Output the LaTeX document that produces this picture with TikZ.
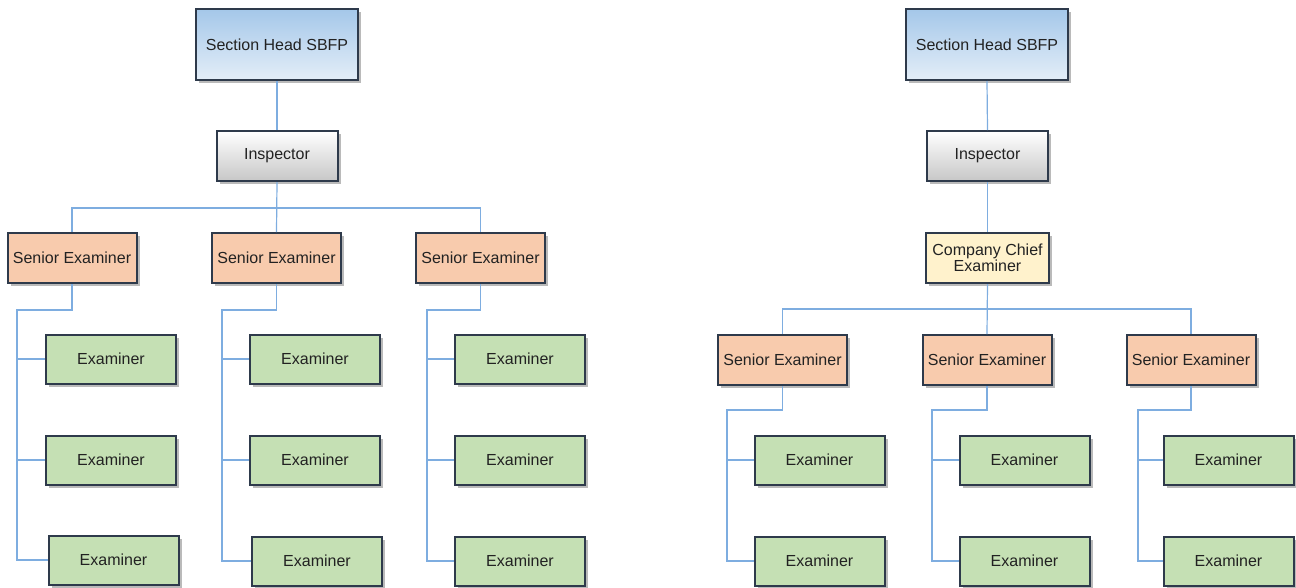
\documentclass[tikz,border=0pt]{standalone}
\usepackage{fontspec}
\setmainfont{Liberation Sans}
\usetikzlibrary{shadows}
\definecolor{bordc}{HTML}{2E3A4B}
\definecolor{connc}{HTML}{7EADE0}
\definecolor{seniorc}{HTML}{F8CBAD}
\definecolor{examc}{HTML}{C5E0B4}
\definecolor{chiefc}{HTML}{FFF2CC}
\definecolor{headtop}{HTML}{A4C7E9}
\definecolor{headbot}{HTML}{E4EEF8}
\definecolor{txtc}{HTML}{222222}
\tikzset{
  box/.style={draw=bordc, line width=2pt, inner sep=2pt, align=center, text=txtc,
    font=\fontsize{16}{17.5}\selectfont,
    drop shadow={shadow xshift=3pt, shadow yshift=-3pt, fill=black!45, opacity=0.6}},
  headbox/.style={box, minimum width=162pt, minimum height=71pt, top color=headtop, bottom color=headbot},
  inspbox/.style={box, minimum width=121pt, minimum height=50pt, top color=white, bottom color=black!22},
  seniorbox/.style={box, fill=seniorc, minimum width=129pt, minimum height=50pt},
  exambox/.style={box, fill=examc, minimum width=130pt, minimum height=49pt},
  chiefbox/.style={box, fill=chiefc, minimum width=123pt, minimum height=50pt},
  conn/.style={draw=connc, line width=1.2pt}
}
\begin{document}
\begin{tikzpicture}[x=1pt, y=-1pt]
\useasboundingbox (0,0) rectangle (1296,587);
% ---------- left tree ----------
\node[headbox] (sh1) at (277,44.5) {Section Head SBFP};
\node[inspbox] (in1) at (277,156) {Inspector};
\node[seniorbox] (sa1) at (72,258) {Senior Examiner};
\node[seniorbox] (sb1) at (276.5,258) {Senior Examiner};
\node[seniorbox] (sc1) at (480.5,258) {Senior Examiner};
\node[exambox] (ea1) at (111,359) {Examiner};
\node[exambox] (ea2) at (111,460) {Examiner};
\node[exambox] (ea3) at (113.5,560) {Examiner};
\node[exambox] (eb1) at (315,359) {Examiner};
\node[exambox] (eb2) at (315,460) {Examiner};
\node[exambox] (eb3) at (317,561) {Examiner};
\node[exambox] (ec1) at (520,359) {Examiner};
\node[exambox] (ec2) at (520,460) {Examiner};
\node[exambox] (ec3) at (520,561) {Examiner};
\coordinate (bus1) at (0,208);
\coordinate (va) at (17,310);
\coordinate (vb) at (222,310);
\coordinate (vc) at (427,310);
\draw[conn] (sh1.south) -- (in1.north);
\draw[conn] (in1.south) -- (sb1.north);
\draw[conn] (sa1.north) -- (sa1.north |- bus1) -- (sc1.north |- bus1) -- (sc1.north);
\draw[conn] (sa1.south) |- (va) -- (va |- ea3.west) -- (ea3.west);
\draw[conn] (va |- ea1.west) -- (ea1.west);
\draw[conn] (va |- ea2.west) -- (ea2.west);
\draw[conn] (sb1.south) |- (vb) -- (vb |- eb3.west) -- (eb3.west);
\draw[conn] (vb |- eb1.west) -- (eb1.west);
\draw[conn] (vb |- eb2.west) -- (eb2.west);
\draw[conn] (sc1.south) |- (vc) -- (vc |- ec3.west) -- (ec3.west);
\draw[conn] (vc |- ec1.west) -- (ec1.west);
\draw[conn] (vc |- ec2.west) -- (ec2.west);
% ---------- right tree ----------
\node[headbox] (sh2) at (987,44.5) {Section Head SBFP};
\node[inspbox] (in2) at (987.5,156) {Inspector};
\node[chiefbox] (cc2) at (987.5,258) {Company Chief\\[-1pt]Examiner};
\node[seniorbox] (sa2) at (782.5,360) {Senior Examiner};
\node[seniorbox] (sb2) at (987,360) {Senior Examiner};
\node[seniorbox] (sc2) at (1191,360) {Senior Examiner};
\node[exambox] (fa1) at (819.5,460) {Examiner};
\node[exambox] (fa2) at (819.5,561) {Examiner};
\node[exambox] (fb1) at (1024.5,460) {Examiner};
\node[exambox] (fb2) at (1024.5,561) {Examiner};
\node[exambox] (fc1) at (1228.5,460) {Examiner};
\node[exambox] (fc2) at (1228.5,561) {Examiner};
\coordinate (bus2) at (0,309);
\coordinate (wa) at (727,410);
\coordinate (wb) at (932,410);
\coordinate (wc) at (1138,410);
\draw[conn] (sh2.south) -- (in2.north);
\draw[conn] (in2.south) -- (cc2.north);
\draw[conn] (cc2.south) -- (sb2.north);
\draw[conn] (sa2.north) -- (sa2.north |- bus2) -- (sc2.north |- bus2) -- (sc2.north);
\draw[conn] (sa2.south) |- (wa) -- (wa |- fa2.west) -- (fa2.west);
\draw[conn] (wa |- fa1.west) -- (fa1.west);
\draw[conn] (sb2.south) |- (wb) -- (wb |- fb2.west) -- (fb2.west);
\draw[conn] (wb |- fb1.west) -- (fb1.west);
\draw[conn] (sc2.south) |- (wc) -- (wc |- fc2.west) -- (fc2.west);
\draw[conn] (wc |- fc1.west) -- (fc1.west);
\end{tikzpicture}
\end{document}
